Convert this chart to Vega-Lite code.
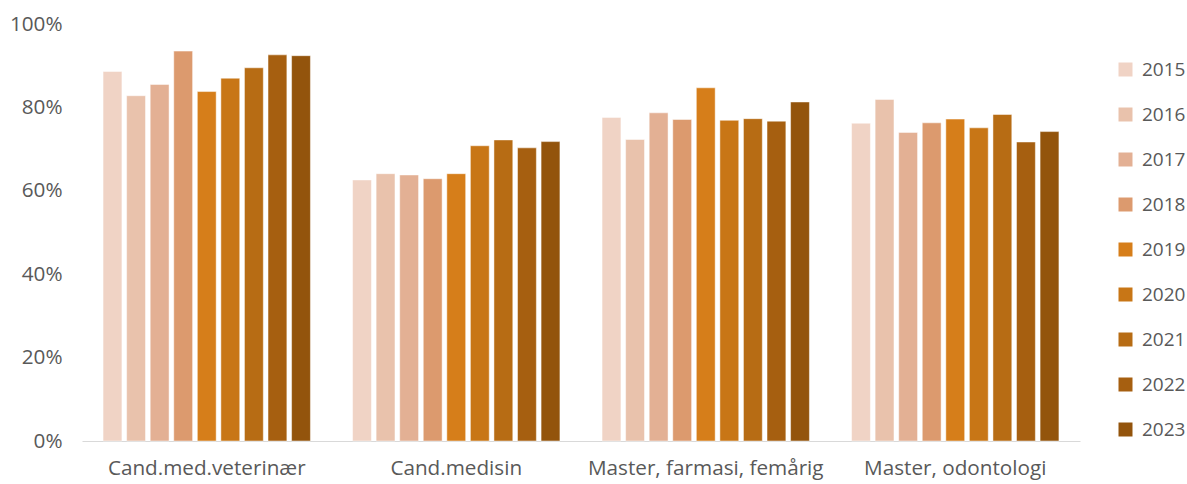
{
  "$schema": "https://vega.github.io/schema/vega-lite/v6.json",
  "width": 998,
  "height": 417,
  "autosize": {"type": "none"},
  "padding": {"left": 82, "top": 24, "right": 107, "bottom": 43},
  "background": "white",
  "config": {
    "view": {"stroke": null},
    "font": "Open Sans",
    "axis": {"labelFont": "Open Sans", "labelColor": "#595959", "labelFontSize": 20.7, "titleFont": "Open Sans", "labelLimit": 0},
    "legend": {"labelFont": "Open Sans", "labelColor": "#595959", "labelFontSize": 19, "labelLimit": 0}
  },
  "data": {
    "values": [
      {"program": "Cand.med.veterinær", "year": "2015", "value": 88.6},
      {"program": "Cand.med.veterinær", "year": "2016", "value": 82.8},
      {"program": "Cand.med.veterinær", "year": "2017", "value": 85.5},
      {"program": "Cand.med.veterinær", "year": "2018", "value": 93.5},
      {"program": "Cand.med.veterinær", "year": "2019", "value": 83.8},
      {"program": "Cand.med.veterinær", "year": "2020", "value": 87.0},
      {"program": "Cand.med.veterinær", "year": "2021", "value": 89.5},
      {"program": "Cand.med.veterinær", "year": "2022", "value": 92.6},
      {"program": "Cand.med.veterinær", "year": "2023", "value": 92.4},
      {"program": "Cand.medisin", "year": "2015", "value": 62.6},
      {"program": "Cand.medisin", "year": "2016", "value": 64.1},
      {"program": "Cand.medisin", "year": "2017", "value": 63.8},
      {"program": "Cand.medisin", "year": "2018", "value": 62.9},
      {"program": "Cand.medisin", "year": "2019", "value": 64.1},
      {"program": "Cand.medisin", "year": "2020", "value": 70.8},
      {"program": "Cand.medisin", "year": "2021", "value": 72.2},
      {"program": "Cand.medisin", "year": "2022", "value": 70.3},
      {"program": "Cand.medisin", "year": "2023", "value": 71.8},
      {"program": "Master, farmasi, femårig", "year": "2015", "value": 77.6},
      {"program": "Master, farmasi, femårig", "year": "2016", "value": 72.3},
      {"program": "Master, farmasi, femårig", "year": "2017", "value": 78.7},
      {"program": "Master, farmasi, femårig", "year": "2018", "value": 77.1},
      {"program": "Master, farmasi, femårig", "year": "2019", "value": 84.7},
      {"program": "Master, farmasi, femårig", "year": "2020", "value": 76.9},
      {"program": "Master, farmasi, femårig", "year": "2021", "value": 77.3},
      {"program": "Master, farmasi, femårig", "year": "2022", "value": 76.7},
      {"program": "Master, farmasi, femårig", "year": "2023", "value": 81.3},
      {"program": "Master, odontologi", "year": "2015", "value": 76.2},
      {"program": "Master, odontologi", "year": "2016", "value": 81.9},
      {"program": "Master, odontologi", "year": "2017", "value": 74.0},
      {"program": "Master, odontologi", "year": "2018", "value": 76.3},
      {"program": "Master, odontologi", "year": "2019", "value": 77.2},
      {"program": "Master, odontologi", "year": "2020", "value": 75.1},
      {"program": "Master, odontologi", "year": "2021", "value": 78.3},
      {"program": "Master, odontologi", "year": "2022", "value": 71.7},
      {"program": "Master, odontologi", "year": "2023", "value": 74.2}
    ]
  },
  "mark": {"type": "bar", "stroke": "#ffffff", "strokeWidth": 0.8, "strokeOpacity": 0.6},
  "encoding": {
    "x": {
      "field": "program",
      "type": "nominal",
      "sort": null,
      "title": null,
      "scale": {"paddingInner": 0.15, "paddingOuter": 0.075},
      "axis": {"labelAngle": 0, "ticks": false, "domainColor": "#d9d9d9", "domainWidth": 1, "labelPadding": 17}
    },
    "xOffset": {
      "field": "year",
      "type": "nominal",
      "sort": null,
      "scale": {"paddingInner": 0.2, "paddingOuter": 0.1}
    },
    "y": {
      "field": "value",
      "type": "quantitative",
      "title": null,
      "scale": {"domain": [0, 100]},
      "axis": {"values": [0, 20, 40, 60, 80, 100], "labelExpr": "datum.value + '%'", "grid": false, "domain": false, "ticks": false, "labelPadding": 20}
    },
    "color": {
      "field": "year",
      "type": "nominal",
      "title": null,
      "scale": {
        "domain": ["2015", "2016", "2017", "2018", "2019", "2020", "2021", "2022", "2023"],
        "range": ["#F0D3C5", "#E9C2AC", "#E3B094", "#DC9A6E", "#D67E1A", "#C87616", "#B76C14", "#A65F10", "#93540C"]
      },
      "legend": {
        "orient": "none",
        "legendX": 1034,
        "legendY": 36,
        "symbolType": "square",
        "symbolSize": 196,
        "symbolStrokeWidth": 0,
        "labelOffset": 7,
        "rowPadding": 25
      }
    }
  }
}
